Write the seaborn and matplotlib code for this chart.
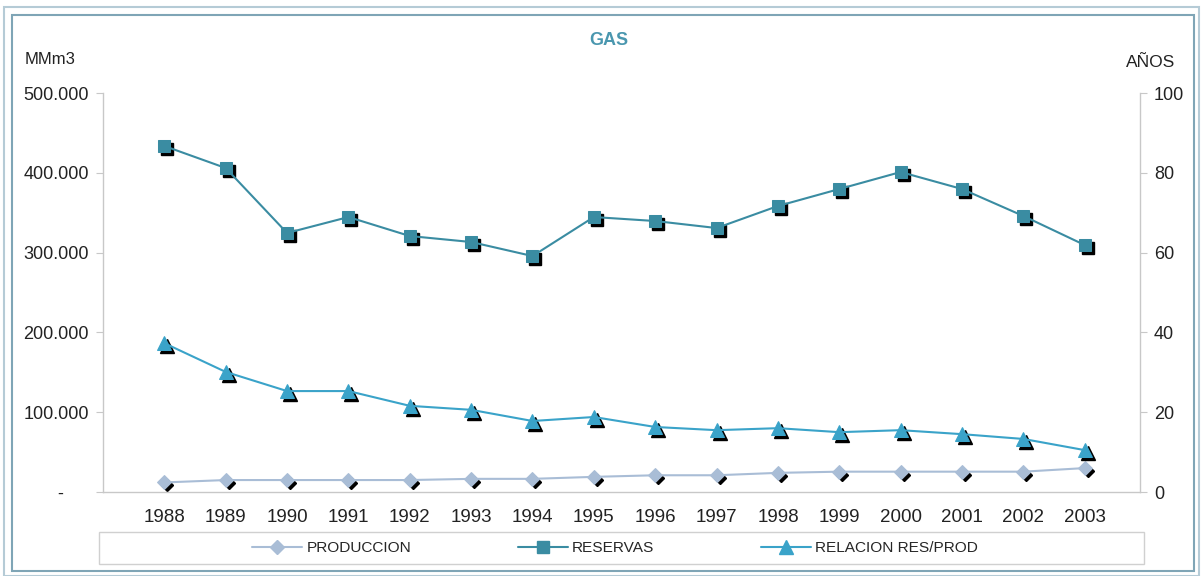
import matplotlib
matplotlib.use("Agg")
import matplotlib.pyplot as plt
import matplotlib.transforms as mtransforms
from matplotlib.patches import Rectangle
from matplotlib.lines import Line2D
from matplotlib.ticker import FuncFormatter
import seaborn as sns

# data (MMm3 and years)
years = [1988, 1989, 1990, 1991, 1992, 1993, 1994, 1995,
         1996, 1997, 1998, 1999, 2000, 2001, 2002, 2003]
produccion = [12000, 15000, 15000, 15000, 15000, 16500, 16500, 19000,
              21000, 21000, 24000, 25500, 25500, 25500, 25500, 30000]
reservas = [433600, 406000, 324600, 344600, 320800, 313300, 295700, 344600,
            339600, 330800, 358400, 379700, 401000, 379700, 345900, 309500]
relacion = [37.3, 30.1, 25.3, 25.3, 21.6, 20.6, 17.8, 18.8,
            16.3, 15.5, 16.0, 15.0, 15.5, 14.5, 13.3, 10.5]

c_prod = "#a9bdd6"
c_res = "#3a8ca2"
c_rel = "#3aa3c9"
teal = "#4a97af"

sns.set_style("white")
plt.rcParams["font.family"] = ["Liberation Sans", "DejaVu Sans"]

fig = plt.figure(figsize=(12.03, 5.76), dpi=100)
ax = fig.add_axes([0.0856, 0.1458, 0.9476 - 0.0856, 0.8385 - 0.1458])
ax2 = ax.twinx()

# black drop shadows behind the markers
shadow = mtransforms.offset_copy(ax.transData, fig=fig, x=3, y=-3, units="dots")
shadow2 = mtransforms.offset_copy(ax2.transData, fig=fig, x=3, y=-3, units="dots")
ax.plot(years, produccion, ls="none", marker="D", ms=6, color="black", transform=shadow, zorder=2)
ax.plot(years, reservas, ls="none", marker="s", ms=8, color="black", transform=shadow, zorder=2)
ax2.plot(years, relacion, ls="none", marker="^", ms=10, color="black", transform=shadow2, zorder=2)

sns.lineplot(x=years, y=produccion, ax=ax, color=c_prod, marker="D", markersize=7,
             markeredgecolor=c_prod, linewidth=1.5, zorder=3, legend=False)
sns.lineplot(x=years, y=reservas, ax=ax, color=c_res, marker="s", markersize=8,
             markeredgecolor=c_res, linewidth=1.5, zorder=3, legend=False)
sns.lineplot(x=years, y=relacion, ax=ax2, color=c_rel, marker="^", markersize=10,
             markeredgecolor=c_rel, linewidth=1.5, zorder=3, legend=False)

ax.set_xlim(1987.0, 2003.9)
ax.set_ylim(0, 500000)
ax2.set_ylim(0, 100)
ax.set_xticks(years)
ax.set_xticklabels([str(y) for y in years])
ax.set_yticks(range(0, 500001, 100000))
ax2.set_yticks(range(0, 101, 20))
ax.yaxis.set_major_formatter(FuncFormatter(
    lambda v, p: "-     " if v == 0 else f"{v:,.0f}".replace(",", ".")))

for a in (ax, ax2):
    a.set_xlabel("")
    a.set_ylabel("")
    a.spines["top"].set_visible(False)
    for s in ("left", "right", "bottom"):
        a.spines[s].set_color("#c8c8c8")
        a.spines[s].set_linewidth(1)
    a.tick_params(axis="both", which="both", direction="out", length=5,
                  color="#c8c8c8", labelsize=13, labelcolor="#222222")
ax.spines["right"].set_visible(False)
ax2.spines["left"].set_visible(False)
ax2.spines["bottom"].set_visible(False)
ax.tick_params(axis="y", pad=5)
ax.tick_params(axis="x", pad=7, labelsize=13.5)
ax2.tick_params(axis="y", pad=5)
ax.grid(False)
ax2.grid(False)

fig.text(0.5062, 0.929, "GAS", color=teal, fontsize=13, fontweight="bold", ha="center", va="center")
fig.text(0.0208, 0.896, "MMm3", fontsize=12, color="#222222", ha="left", va="center")
fig.text(0.9362, 0.892, "AÑOS", fontsize=12.5, color="#222222", ha="left", va="center")

# legend with its own frame
fig.patches.append(Rectangle((99 / 1203, 1 - 564 / 576), (1144 - 99) / 1203, 32 / 576,
                             transform=fig.transFigure, fill=False,
                             edgecolor="#d0d0d0", linewidth=1))
handles = [
    Line2D([], [], color=c_prod, marker="D", ms=7, mec=c_prod, lw=1.5),
    Line2D([], [], color=c_res, marker="s", ms=8, mec=c_res, lw=1.5),
    Line2D([], [], color=c_rel, marker="^", ms=10, mec=c_rel, lw=1.5),
]
fig.legend(handles, ["PRODUCCION", "RESERVAS", "RELACION RES/PROD"],
           loc="center left", bbox_to_anchor=(0.2095, 1 - 548 / 576), ncol=3,
           frameon=False, fontsize=11.1, handlelength=3.27, handletextpad=0.26,
           columnspacing=6.9, borderpad=0, borderaxespad=0)

# double outer frame
fig.patches.append(Rectangle((4 / 1203, 0.0), 1195 / 1203, 1 - 7 / 576,
                             transform=fig.transFigure, fill=False,
                             edgecolor="#b5cbd6", linewidth=1.5))
fig.patches.append(Rectangle((12 / 1203, 1 - 571 / 576), (1194 - 12) / 1203, (571 - 15) / 576,
                             transform=fig.transFigure, fill=False,
                             edgecolor="#7fa5b6", linewidth=1.5))

fig.savefig("out.png", dpi=100)
